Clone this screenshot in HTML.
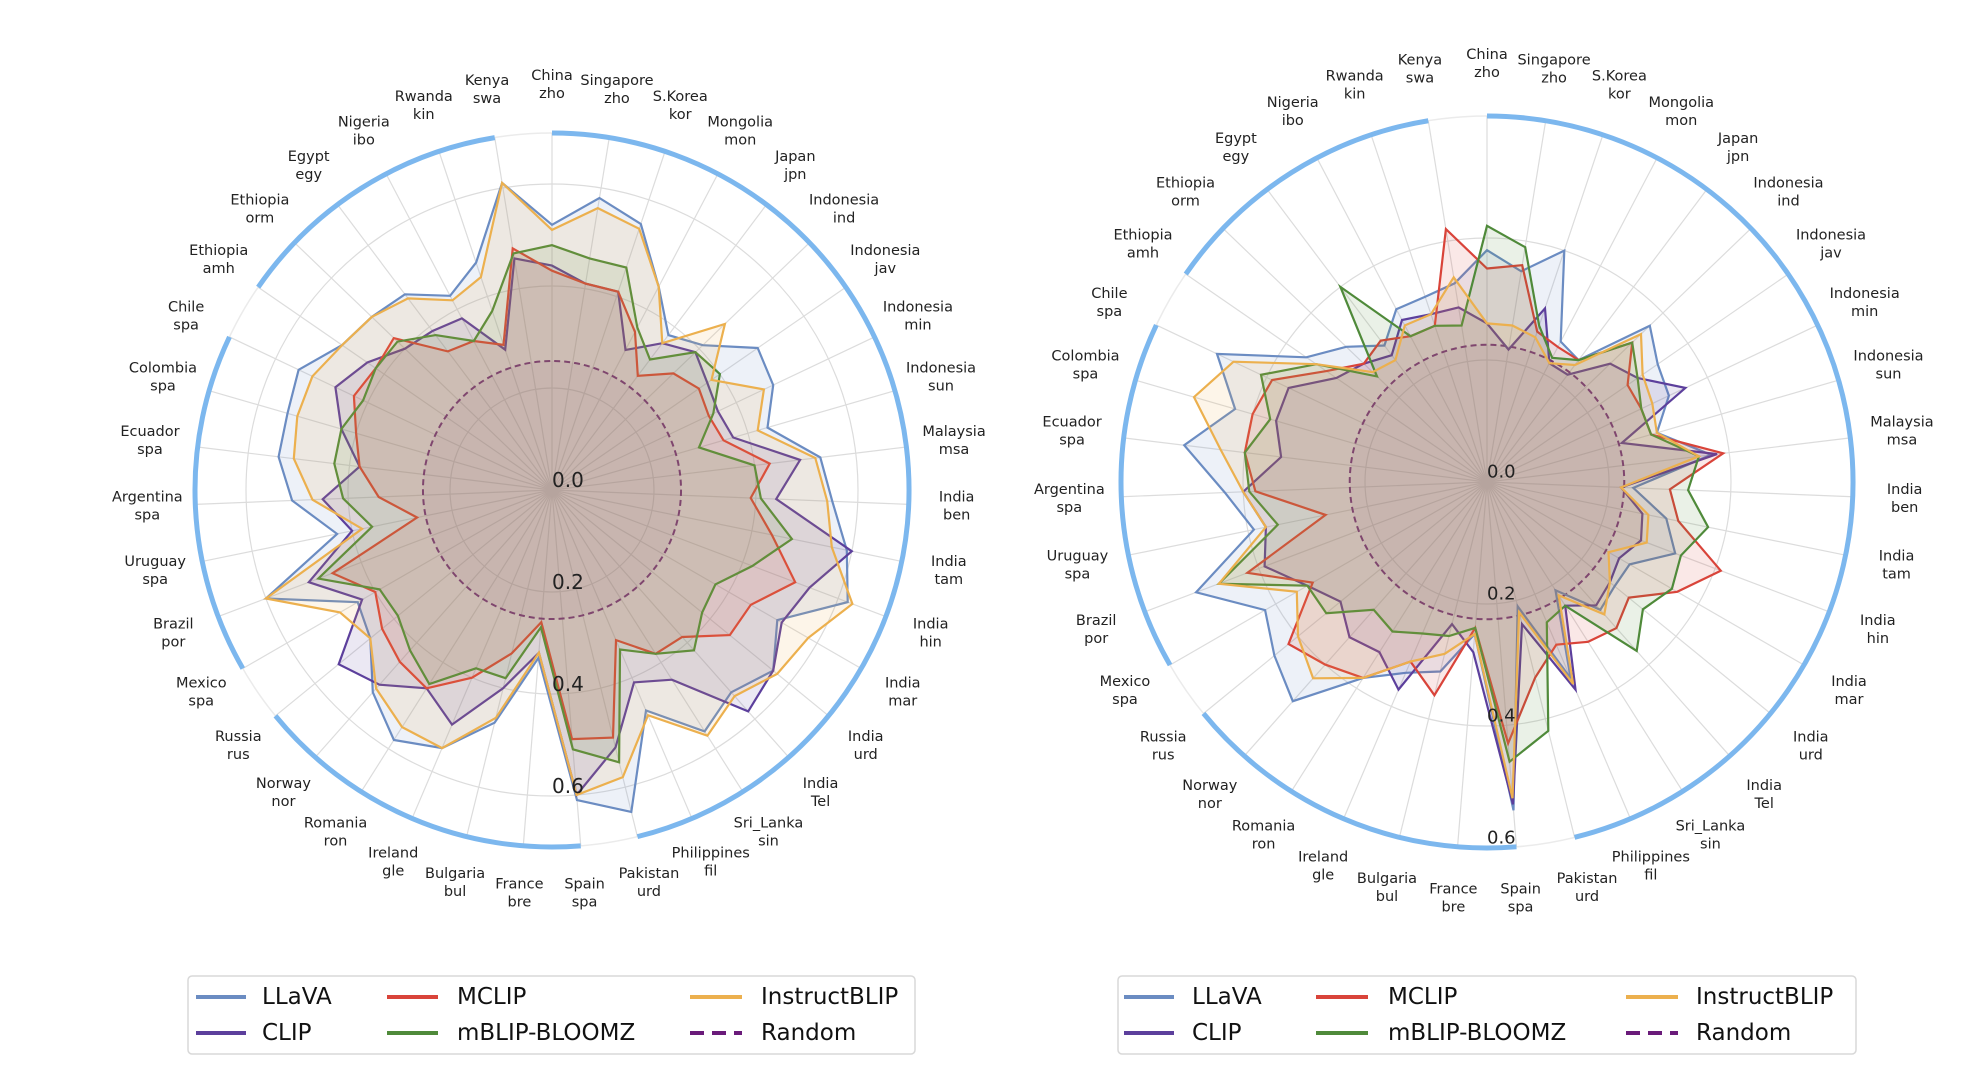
<!DOCTYPE html>
<html><head><meta charset="utf-8">
<style>
html,body{margin:0;padding:0;background:#fff;}
svg{display:block;}
text{font-family:"DejaVu Sans","Liberation Sans",sans-serif;}
</style></head>
<body>
<svg id="chart" width="1984" height="1080" viewBox="0 0 1984 1080" xmlns="http://www.w3.org/2000/svg">
<rect x="0" y="0" width="1984" height="1080" fill="#fff"/>
<g id="left"></g>
<g id="right"></g>
<g id="legends"></g>
</svg>
<script>
const categories = ["China\nzho","Singapore\nzho","S.Korea\nkor","Mongolia\nmon","Japan\njpn","Indonesia\nind","Indonesia\njav","Indonesia\nmin","Indonesia\nsun","Malaysia\nmsa","India\nben","India\ntam","India\nhin","India\nmar","India\nurd","India\nTel","Sri_Lanka\nsin","Philippines\nfil","Pakistan\nurd","Spain\nspa","France\nbre","Bulgaria\nbul","Ireland\ngle","Romania\nron","Norway\nnor","Russia\nrus","Mexico\nspa","Brazil\npor","Uruguay\nspa","Argentina\nspa","Ecuador\nspa","Colombia\nspa","Chile\nspa","Ethiopia\namh","Ethiopia\norm","Egypt\negy","Nigeria\nibo","Rwanda\nkin","Kenya\nswa"];
const seriesNames = ["LLaVA","CLIP","MCLIP","mBLIP-BLOOMZ","InstructBLIP"];
const seriesColors = ["#6b8cc2","#5c3f9c","#d9443a","#4f8a3a","#ecb04e"];
// left chart values
const leftLLaVA = [0.52,0.58,0.55,0.45,0.38,0.41,0.49,0.48,0.44,0.53,0.55,0.59,0.62,0.51,0.56,0.53,0.56,0.47,0.65,0.61,0.33,0.47,0.55,0.58,0.53,0.46,0.44,0.60,0.43,0.51,0.54,0.54,0.55,0.50,0.49,0.48,0.43,0.47,0.61];
const leftCLIP = [0.44,0.41,0.41,0.31,0.36,0.39,0.37,0.36,0.37,0.49,0.44,0.60,0.54,0.52,0.56,0.58,0.44,0.41,0.52,0.60,0.32,0.40,0.50,0.46,0.51,0.54,0.43,0.51,0.40,0.45,0.38,0.43,0.47,0.44,0.40,0.39,0.38,0.29,0.46];
const leftMCLIP = [0.43,0.41,0.41,0.35,0.28,0.33,0.35,0.34,0.35,0.43,0.39,0.44,0.51,0.45,0.45,0.385,0.38,0.32,0.50,0.49,0.26,0.33,0.40,0.46,0.45,0.43,0.40,0.46,0.27,0.34,0.38,0.40,0.43,0.42,0.43,0.34,0.33,0.30,0.48];
const leftBLOOMZ = [0.48,0.46,0.46,0.36,0.32,0.39,0.40,0.35,0.30,0.40,0.41,0.48,0.42,0.37,0.38,0.42,0.38,0.34,0.55,0.51,0.27,0.38,0.38,0.45,0.42,0.39,0.39,0.49,0.36,0.41,0.43,0.43,0.41,0.42,0.42,0.38,0.33,0.37,0.47];
const leftInstruct = [0.51,0.56,0.54,0.45,0.36,0.47,0.38,0.46,0.42,0.52,0.54,0.56,0.63,0.58,0.57,0.54,0.57,0.48,0.58,0.60,0.32,0.46,0.55,0.55,0.52,0.46,0.48,0.60,0.38,0.47,0.51,0.52,0.52,0.50,0.49,0.47,0.42,0.44,0.61];
// right chart values
const rightLLaVA = [0.38,0.35,0.40,0.26,0.25,0.37,0.34,0.33,0.29,0.37,0.24,0.30,0.33,0.27,0.27,0.28,0.21,0.35,0.21,0.54,0.25,0.32,0.34,0.38,0.48,0.45,0.42,0.51,0.39,0.43,0.50,0.43,0.49,0.36,0.32,0.28,0.32,0.32,0.33];
const rightCLIP = [0.26,0.22,0.30,0.22,0.22,0.28,0.30,0.36,0.23,0.38,0.22,0.26,0.27,0.25,0.26,0.27,0.24,0.37,0.24,0.53,0.28,0.24,0.37,0.33,0.34,0.31,0.34,0.39,0.37,0.40,0.34,0.36,0.36,0.30,0.28,0.26,0.30,0.29,0.29];
const rightMCLIP = [0.35,0.36,0.26,0.25,0.25,0.33,0.28,0.28,0.28,0.39,0.30,0.32,0.41,0.36,0.30,0.32,0.31,0.29,0.33,0.43,0.24,0.36,0.32,0.38,0.40,0.42,0.33,0.42,0.27,0.38,0.40,0.40,0.39,0.32,0.28,0.29,0.27,0.27,0.42];
const rightBLOOMZ = [0.42,0.39,0.27,0.23,0.25,0.33,0.30,0.28,0.28,0.35,0.33,0.37,0.34,0.35,0.33,0.37,0.24,0.25,0.42,0.46,0.24,0.26,0.27,0.29,0.28,0.34,0.34,0.47,0.35,0.39,0.40,0.37,0.41,0.34,0.25,0.40,0.27,0.27,0.26];
const rightInstruct = [0.26,0.26,0.25,0.22,0.24,0.35,0.31,0.30,0.29,0.35,0.22,0.27,0.28,0.23,0.26,0.29,0.22,0.36,0.22,0.52,0.25,0.29,0.32,0.38,0.43,0.40,0.36,0.47,0.37,0.40,0.44,0.50,0.46,0.34,0.26,0.25,0.29,0.29,0.34];
const leftRandom = 0.253;
const rightRandom = 0.225;
const leftTicks = ["0.0","0.2","0.4","0.6"];
const rightTicks = ["0.0","0.2","0.4","0.6"];
const regionGroups = [[0,18],[19,25],[26,32],[33,38]];

const NS = "http://www.w3.org/2000/svg";
function mk(tag, attrs, parent){
  const e = document.createElementNS(NS, tag);
  for (const k in attrs) e.setAttribute(k, attrs[k]);
  parent.appendChild(e);
  return e;
}
const N = categories.length;
function ang(i){ return i * 2*Math.PI / N; }

function drawRadar(g, cx, cy, unit, maxV, series, rand, ticks, tickSize, labelR, ringVals){
  const R = maxV*unit;
  const pt = (i, v) => [cx + Math.sin(ang(i))*v*unit, cy - Math.cos(ang(i))*v*unit];
  const oc = mk('circle',{cx:cx,cy:cy,r:R,fill:'none',stroke:'#ebebeb','stroke-width':1.5},g);
  
  
  ringVals.forEach(v=>{
    const c = mk('circle',{cx:cx,cy:cy,r:v*unit,fill:'none',stroke:'#dcdcdc','stroke-width':1.2},g);
    
    
  });
  for (let i=0;i<N;i++){
    const p = pt(i, maxV);
    const l = mk('line',{x1:cx,y1:cy,x2:p[0],y2:p[1],stroke:'#dcdcdc','stroke-width':1.2},g);
    
    
  }
  regionGroups.forEach(([a,b])=>{
    const p1 = pt(a,maxV), p2 = pt(b,maxV);
    const large = (ang(b)-ang(a)) > Math.PI ? 1 : 0;
    const arc = mk('path',{d:`M${p1[0]},${p1[1]} A${R},${R} 0 ${large} 1 ${p2[0]},${p2[1]}`,fill:'none',stroke:'#7cb7ee','stroke-width':5},g);
    
    
  });
  const rc = mk('circle',{cx:cx,cy:cy,r:rand*unit,fill:'#7b3f8f','fill-opacity':0.08,stroke:'#6a1b7a','stroke-width':2,'stroke-dasharray':'6 4'},g);
  
  
  series.forEach((vals, s)=>{
    const pts = vals.map((v,i)=>pt(i,v).map(n=>n.toFixed(1)).join(',')).join(' ');
    const poly = mk('polygon',{points:pts,fill:seriesColors[s],'fill-opacity':0.12,stroke:seriesColors[s],'stroke-width':2.2,'stroke-linejoin':'miter'},g);
    
    
  });
  ticks.forEach(t=>{
    const v = parseFloat(t);
    const tx = mk('text',{x:cx,y:cy+v*unit-10,'font-size':tickSize,'dominant-baseline':'central',fill:'#222'},g);
    tx.textContent = t;
    
    
  });
  categories.forEach((c,i)=>{
    const x = cx + Math.sin(ang(i))*labelR, y = cy - Math.cos(ang(i))*labelR;
    const lines = c.split('\n');
    const t = mk('text',{x:x,y:y-9,'font-size':14.5,'text-anchor':'middle','dominant-baseline':'central',fill:'#222'},g);
    
    
    lines.forEach((ln,k)=>{
      const ts = mk('tspan',{x:x,dy:k===0?0:18},t);
      ts.textContent = ln;
    });
  });
}

drawRadar(document.getElementById('left'), 552, 490, 510, 0.7,
  [leftLLaVA,leftCLIP,leftMCLIP,leftBLOOMZ,leftInstruct], leftRandom, leftTicks, 20, 405, [0.2,0.4,0.6]);
drawRadar(document.getElementById('right'), 1487, 482, 610, 0.6,
  [rightLLaVA,rightCLIP,rightMCLIP,rightBLOOMZ,rightInstruct], rightRandom, rightTicks, 18, 418, [0.2,0.4]);

function drawLegend(x0, x1, y0, y1, cols, name){
  const lg = document.getElementById('legends');
  const g = mk('g',{},lg);
  
  
  const box = mk('rect',{x:x0,y:y0,width:x1-x0,height:y1-y0,rx:4,fill:'#fff',stroke:'#d8d8d8','stroke-width':1.5},g);
  
  
  const entries = [[0,0,0],[1,1,0],[2,0,1],[3,1,1],[4,0,2],[5,1,2]];
  const labels = ["LLaVA","CLIP","MCLIP","mBLIP-BLOOMZ","InstructBLIP","Random"];
  const colors = ["#6b8cc2","#5c3f9c","#d9443a","#4f8a3a","#ecb04e","#6a1b7a"];
  const rows = [y0+21, y0+57];
  entries.forEach(([idx,row,col])=>{
    const c = cols[col];
    const y = rows[row];
    const ln = mk('line',{x1:c[0],y1:y,x2:c[1],y2:y,stroke:colors[idx],'stroke-width':4},g);
    if (idx===5) ln.setAttribute('stroke-dasharray','14 8');
    
    
    const t = mk('text',{x:c[2],y:y,'font-size':23,'dominant-baseline':'central',fill:'#111'},g);
    t.textContent = labels[idx];
    
    
  });
}
drawLegend(188, 915, 976, 1054, [[196,246,262],[387,438,457],[690,742,761]], 'left-legend');
drawLegend(1118, 1856, 976, 1054, [[1124,1174,1192],[1316,1368,1388],[1626,1678,1696]], 'right-legend');
</script>
</body></html>
